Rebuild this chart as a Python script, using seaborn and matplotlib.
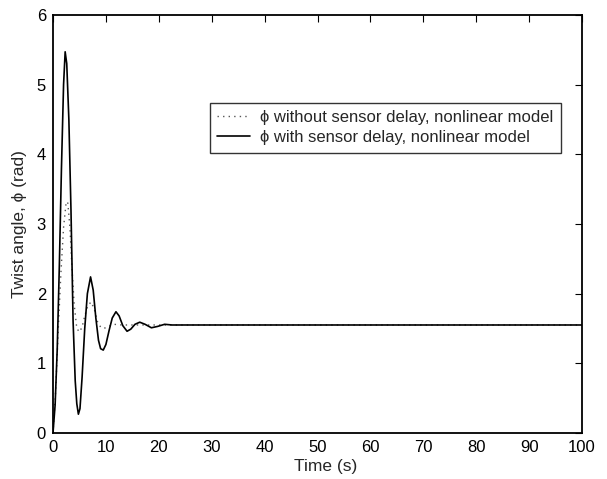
import matplotlib
matplotlib.use("Agg")
import matplotlib.pyplot as plt
import seaborn as sns
import pandas as pd

# Solid: phi with sensor delay, nonlinear model
t_delay = [0, 0.4, 0.8, 1.2, 1.6, 2.0, 2.3, 2.6, 3.0, 3.4, 3.8, 4.2, 4.5, 4.8,
           5.1, 5.5, 6.0, 6.5, 7.1, 7.6, 8.1, 8.6, 9.0, 9.5, 10.0, 10.6, 11.2,
           11.9, 12.5, 13.2, 14.0, 14.7, 15.5, 16.4, 17.4, 18.6, 19.8, 21.1,
           22.5, 25, 100]
phi_delay = [0, 0.4, 1.2, 2.4, 3.8, 5.0, 5.47, 5.3, 4.5, 3.2, 1.6, 0.75, 0.42,
             0.27, 0.35, 0.8, 1.5, 2.0, 2.24, 2.05, 1.65, 1.33, 1.21, 1.19,
             1.27, 1.47, 1.65, 1.74, 1.68, 1.54, 1.46, 1.49, 1.56, 1.59, 1.56,
             1.51, 1.53, 1.56, 1.55, 1.55, 1.55]

# Dotted: phi without sensor delay, nonlinear model
t_nodelay = [0, 0.5, 1.0, 1.5, 2.0, 2.5, 2.8, 3.2, 3.6, 4.0, 4.5, 5.0, 5.5,
             6.0, 6.6, 7.2, 7.8, 8.4, 9.0, 9.6, 10.5, 11.5, 13, 100]
phi_nodelay = [0, 0.6, 1.5, 2.3, 2.95, 3.32, 3.3, 2.95, 2.35, 1.85, 1.5, 1.45,
               1.52, 1.68, 1.83, 1.88, 1.78, 1.6, 1.52, 1.5, 1.53, 1.56, 1.55,
               1.55]

x_ticks = [0, 10, 20, 30, 40, 50, 60, 70, 80, 90, 100]
y_ticks = [0, 1, 2, 3, 4, 5, 6]

sns.set_style("white")
plt.rcParams['font.family'] = ['Liberation Sans', 'DejaVu Sans']

df_nd = pd.DataFrame({"t": t_nodelay, "phi": phi_nodelay})
df_d = pd.DataFrame({"t": t_delay, "phi": phi_delay})

fig = plt.figure(figsize=(6.07, 4.79), dpi=100)
ax = fig.add_axes([0.0873, 0.096, 0.8716, 0.873])

sns.lineplot(data=df_nd, x="t", y="phi", ax=ax, color="#555555",
             linestyle=(0, (1, 3)), linewidth=1.0,
             label="\u03d5 without sensor delay, nonlinear model")
sns.lineplot(data=df_d, x="t", y="phi", ax=ax, color="black",
             linewidth=1.2,
             label="\u03d5 with sensor delay, nonlinear model")

ax.set_xlim(0, 100)
ax.set_ylim(0, 6)
ax.set_xticks(x_ticks)
ax.set_yticks(y_ticks)
ax.tick_params(direction="in", length=5, width=0.8, top=True, right=True,
               labelsize=12, colors="black", pad=5)
for s in ax.spines.values():
    s.set_visible(True)
    s.set_color("black")
    s.set_linewidth(1.3)
ax.set_xlabel("Time (s)", fontsize=12.5)
ax.set_ylabel("Twist angle, \u03d5 (rad)", fontsize=12.5)
ax.xaxis.set_label_coords(0.515, -0.062)
ax.yaxis.set_label_coords(-0.05, 0.5)
ax.grid(False)

leg = ax.legend(loc="upper left", bbox_to_anchor=(0.296, 0.79), fontsize=12,
                frameon=True, fancybox=False, edgecolor="black",
                borderpad=0.45, handlelength=2.0, handletextpad=0.6,
                labelspacing=0.3, borderaxespad=0)
leg.get_frame().set_linewidth(1.0)
leg.get_frame().set_facecolor("white")

fig.savefig("out.png", dpi=100)
